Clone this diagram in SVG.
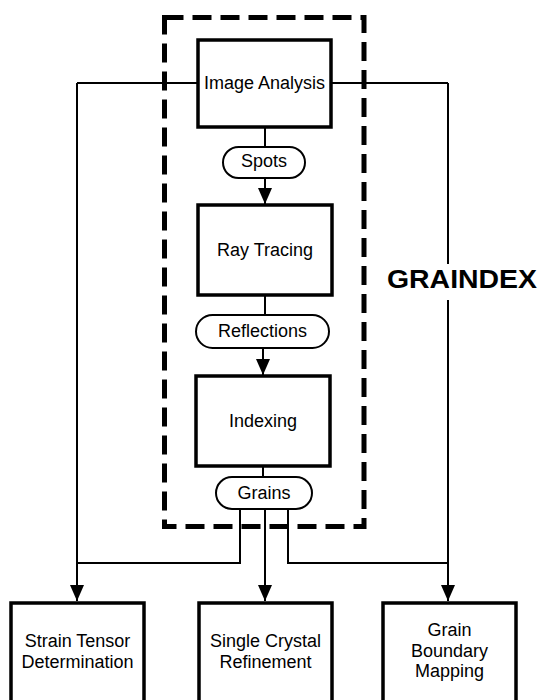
<svg xmlns="http://www.w3.org/2000/svg" width="541" height="700" viewBox="0 0 541 700">
<defs>
<style>
.box{fill:#fff;stroke:#000;stroke-width:3.5}
.pill{fill:#fff;stroke:#000;stroke-width:2}
.ln{fill:none;stroke:#000;stroke-width:2}
.t{font-family:"Liberation Sans",Arial,sans-serif;font-size:18px;fill:#000;text-anchor:middle}
.title{font-family:"Liberation Sans",Arial,sans-serif;font-size:25px;font-weight:bold;fill:#000}
</style>
<marker id="arr" viewBox="0 0 16 14" markerWidth="16" markerHeight="14" refX="16" refY="7" orient="auto" markerUnits="userSpaceOnUse">
<path d="M0,0 L16,7 L0,14 Z" fill="#000"/>
</marker>
</defs>
<rect width="541" height="700" fill="#fff"/>
<g id="graindex-frame">
<rect x="164.5" y="17.5" width="199.5" height="509" fill="none" stroke="#000" stroke-width="5" stroke-dasharray="19,9"/>
</g>
<g id="connectors">
<path class="ln" d="M77,83 H448"/>
<path class="ln" d="M77,83 V601" marker-end="url(#arr)"/>
<path class="ln" d="M448,83 V601" marker-end="url(#arr)"/>
<path class="ln" d="M265,127 V147"/>
<path class="ln" d="M265,178 V204" marker-end="url(#arr)"/>
<path class="ln" d="M265,295 V315"/>
<path class="ln" d="M263,348 V375" marker-end="url(#arr)"/>
<path class="ln" d="M263,466 V477"/>
<path class="ln" d="M240,509 V563 H77"/>
<path class="ln" d="M265,509 V601" marker-end="url(#arr)"/>
<path class="ln" d="M288,509 V563 H448"/>
</g>
<g id="title">
<rect x="385" y="264" width="154" height="36" fill="#fff"/>
<text class="title" x="387" y="288" textLength="150" lengthAdjust="spacingAndGlyphs">GRAINDEX</text>
</g>
<g id="image-analysis">
<rect class="box" x="198" y="40" width="133" height="87"/>
<text class="t" x="264.5" y="89">Image Analysis</text>
</g>
<g id="spots">
<rect class="pill" x="223" y="147" width="82" height="31" rx="15.5"/>
<text class="t" x="264" y="167">Spots</text>
</g>
<g id="ray-tracing">
<rect class="box" x="198" y="205" width="134" height="90"/>
<text class="t" x="265" y="256">Ray Tracing</text>
</g>
<g id="reflections">
<rect class="pill" x="196" y="315" width="133" height="33" rx="16.5"/>
<text class="t" x="262.5" y="337">Reflections</text>
</g>
<g id="indexing">
<rect class="box" x="196" y="376" width="134" height="90"/>
<text class="t" x="263" y="427">Indexing</text>
</g>
<g id="grains">
<rect class="pill" x="216" y="477" width="96" height="32" rx="16"/>
<text class="t" x="264" y="499">Grains</text>
</g>
<g id="strain-tensor">
<rect class="box" x="11" y="603" width="133" height="110"/>
<text class="t" x="77.5" y="647">Strain Tensor</text>
<text class="t" x="77.5" y="668">Determination</text>
</g>
<g id="single-crystal">
<rect class="box" x="199" y="603" width="133" height="110"/>
<text class="t" x="265.5" y="647">Single Crystal</text>
<text class="t" x="265.5" y="668">Refinement</text>
</g>
<g id="grain-boundary">
<rect class="box" x="383" y="603" width="133" height="110"/>
<text class="t" x="449.5" y="636">Grain</text>
<text class="t" x="449.5" y="656.5">Boundary</text>
<text class="t" x="449.5" y="677">Mapping</text>
</g>
</svg>
